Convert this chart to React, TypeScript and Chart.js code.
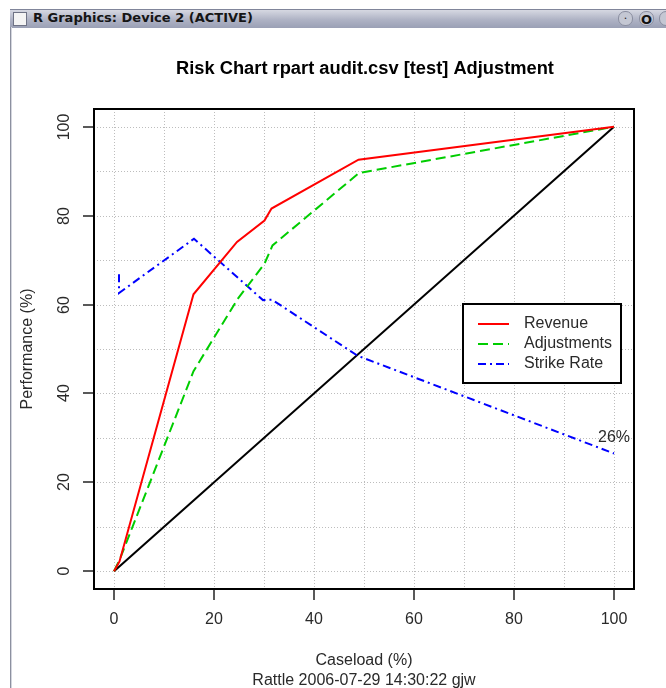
import React, { useEffect, useRef } from "react";
import { Chart, registerables } from "chart.js";

Chart.register(...registerables);

// ---- data ----
const revenueX = [0, 1.1, 15.9, 24.6, 30.1, 31.5, 48.9, 100];
const revenueY = [0, 2.2, 62.3, 74.1, 78.9, 81.6, 92.6, 100];

const adjustmentsX = [0, 1.1, 15.9, 24.7, 30.1, 31.7, 49.0, 100];
const adjustmentsY = [0, 2.5, 45.0, 61.2, 69.2, 73.3, 89.6, 100];

const strikeX = [1.0, 1.0, 16.0, 29.8, 31.6, 48.7, 100];
const strikeY = [66.8, 62.6, 74.8, 61.0, 61.1, 48.5, 26.5];

const diagonalX = [0, 100];
const diagonalY = [0, 100];

const xTickValues = [0, 20, 40, 60, 80, 100];
const yTickValues = [0, 20, 40, 60, 80, 100];
const gridValues = [0, 10, 20, 30, 40, 50, 60, 70, 80, 90, 100];

const chartTitle = "Risk Chart rpart audit.csv [test] Adjustment";
const xAxisTitle = "Caseload (%)";
const subTitle = "Rattle 2006-07-29 14:30:22 gjw";
const yAxisTitle = "Performance (%)";
const legendLabels = ["Revenue", "Adjustments", "Strike Rate"];
const endLabel = "26%";
const windowTitle = "R Graphics: Device 2 (ACTIVE)";

const FONT = "'Liberation Sans', Arial, Helvetica, sans-serif";
const RED = "#ff0000";
const GREEN = "#00cd00";
const BLUE = "#0000ff";
const DASH_ADJ = [10, 5];
const DASH_STRIKE = [8, 4, 2, 4];

const pts = (xs: number[], ys: number[]) => xs.map((x, i) => ({ x, y: ys[i] }));

const decorPlugin = {
  id: "rdecor",
  beforeDatasetsDraw(chart: any) {
    const { ctx, chartArea, scales } = chart;
    const xs = scales.x;
    const ys = scales.y;
    ctx.save();
    ctx.strokeStyle = "#bdbdbd";
    ctx.lineWidth = 1;
    ctx.setLineDash([1, 2]);
    gridValues.forEach((v) => {
      const px = Math.round(xs.getPixelForValue(v)) + 0.5;
      ctx.beginPath();
      ctx.moveTo(px, chartArea.top);
      ctx.lineTo(px, chartArea.bottom);
      ctx.stroke();
      const py = Math.round(ys.getPixelForValue(v)) + 0.5;
      ctx.beginPath();
      ctx.moveTo(chartArea.left, py);
      ctx.lineTo(chartArea.right, py);
      ctx.stroke();
    });
    ctx.restore();
  },
  afterDatasetsDraw(chart: any) {
    const { ctx, chartArea, scales } = chart;
    const xs = scales.x;
    const ys = scales.y;
    const { left, right, top, bottom } = chartArea;
    ctx.save();
    ctx.setLineDash([]);
    // box
    ctx.strokeStyle = "#000";
    ctx.lineWidth = 2;
    ctx.strokeRect(left, top, right - left, bottom - top);

    // ticks
    ctx.lineWidth = 1.5;
    ctx.strokeStyle = "#222";
    ctx.fillStyle = "#2a2a2a";
    ctx.font = `16px ${FONT}`;
    ctx.textAlign = "center";
    ctx.textBaseline = "middle";
    xTickValues.forEach((v) => {
      const px = Math.round(xs.getPixelForValue(v));
      ctx.beginPath();
      ctx.moveTo(px, bottom + 1);
      ctx.lineTo(px, bottom + 11);
      ctx.stroke();
      ctx.fillText(String(v), px, bottom + 31);
    });
    yTickValues.forEach((v) => {
      const py = Math.round(ys.getPixelForValue(v));
      ctx.beginPath();
      ctx.moveTo(left - 1, py);
      ctx.lineTo(left - 11, py);
      ctx.stroke();
      ctx.save();
      ctx.translate(left - 29, py);
      ctx.rotate(-Math.PI / 2);
      ctx.fillText(String(v), 0, 0);
      ctx.restore();
    });

    // axis titles
    const cx = (left + right) / 2;
    ctx.fillText(xAxisTitle, cx, bottom + 72);
    ctx.fillText(subTitle, cx, bottom + 92);
    ctx.save();
    ctx.translate(left - 66, (top + bottom) / 2);
    ctx.rotate(-Math.PI / 2);
    ctx.fillText(yAxisTitle, 0, 0);
    ctx.restore();

    // main title
    ctx.fillStyle = "#000";
    ctx.font = `bold 18.3px ${FONT}`;
    ctx.fillText(chartTitle, cx + 1, top - 40);

    // end label
    ctx.fillStyle = "#2a2a2a";
    ctx.font = `16px ${FONT}`;
    const ex = xs.getPixelForValue(strikeX[strikeX.length - 1]);
    const ey = ys.getPixelForValue(strikeY[strikeY.length - 1]);
    ctx.fillText(endLabel, ex, ey - 16);

    // legend
    const lx = 463, ly = 304, lw = 158, lh = 79;
    ctx.fillStyle = "#fff";
    ctx.fillRect(lx, ly, lw, lh);
    ctx.strokeStyle = "#000";
    ctx.lineWidth = 2;
    ctx.strokeRect(lx, ly, lw, lh);
    const colors = [RED, GREEN, BLUE];
    const dashes = [[], DASH_ADJ, DASH_STRIKE];
    legendLabels.forEach((lab, i) => {
      const yy = ly + 20 + i * 20;
      ctx.strokeStyle = colors[i];
      ctx.lineWidth = 2;
      ctx.setLineDash(dashes[i]);
      ctx.beginPath();
      ctx.moveTo(lx + 15, yy);
      ctx.lineTo(lx + 46, yy);
      ctx.stroke();
      ctx.setLineDash([]);
      ctx.fillStyle = "#2a2a2a";
      ctx.textAlign = "left";
      ctx.fillText(lab, lx + 61, yy);
    });
    ctx.restore();
  },
};

function ChartCanvas() {
  const ref = useRef<HTMLCanvasElement | null>(null);
  useEffect(() => {
    if (!ref.current) return;
    const common = { showLine: true, pointRadius: 0, borderWidth: 2, fill: false, tension: 0 };
    const chart = new Chart(ref.current, {
      type: "scatter",
      data: {
        datasets: [
          { ...common, label: "Diagonal", data: pts(diagonalX, diagonalY), borderColor: "#000", order: 3 },
          { ...common, label: legendLabels[2], data: pts(strikeX, strikeY), borderColor: BLUE, borderDash: DASH_STRIKE, order: 2 },
          { ...common, label: legendLabels[1], data: pts(adjustmentsX, adjustmentsY), borderColor: GREEN, borderDash: DASH_ADJ, order: 1 },
          { ...common, label: legendLabels[0], data: pts(revenueX, revenueY), borderColor: RED, order: 0 },
        ],
      },
      options: {
        responsive: false,
        animation: false,
        devicePixelRatio: 1,
        layout: { padding: { left: 94, right: 32, top: 109, bottom: 99 } },
        scales: {
          x: { type: "linear", min: -4, max: 104, display: false },
          y: { type: "linear", min: -4, max: 104, display: false },
        },
        plugins: { legend: { display: false }, tooltip: { enabled: false }, title: { display: false } },
      },
      plugins: [decorPlugin],
    } as any);
    return () => chart.destroy();
  }, []);
  return (
    <canvas ref={ref} width={666} height={688} style={{ position: "absolute", left: 0, top: 0, width: 666, height: 688 }} />
  );
}

export default function App() {
  return (
    <div style={{ position: "absolute", left: 0, top: 0, width: 666, height: 688, background: "#fff", overflow: "hidden" }}>
      <ChartCanvas />
      {/* window chrome */}
      <div style={{ position: "absolute", left: 10, top: 9, width: 656, height: 18, background: "linear-gradient(#d6d8e2, #aeb2c4 55%, #9aa0b5)", borderTop: "1px solid #80859a" }} />
      <div style={{ position: "absolute", left: 13, top: 12, width: 12, height: 12, background: "#f4f4f4", border: "1px solid #6f7385" }} />
      <div style={{ position: "absolute", left: 33, top: 10, height: 18, lineHeight: "18px", font: "bold 13px 'DejaVu Sans', sans-serif", color: "#151515", whiteSpace: "nowrap" }}>{windowTitle}</div>
      <div style={{ position: "absolute", left: 618, top: 11, width: 13, height: 13, borderRadius: 7, background: "#c4c7d3", border: "1px solid #8a8ea0", textAlign: "center", lineHeight: "12px", fontSize: 12, color: "#222" }}>·</div>
      <div style={{ position: "absolute", left: 639, top: 11, width: 13, height: 13, borderRadius: 7, background: "#c4c7d3", border: "1px solid #8a8ea0", textAlign: "center", lineHeight: "13px", font: "bold 13px 'DejaVu Sans', sans-serif", color: "#111" }}>O</div>
      <div style={{ position: "absolute", left: 659, top: 11, width: 13, height: 13, borderRadius: 7, background: "#c4c7d3", border: "1px solid #8a8ea0" }} />
      <div style={{ position: "absolute", left: 10, top: 27, width: 1, height: 661, background: "#8c90a0" }} />
      <div style={{ position: "absolute", left: 11, top: 27, width: 1, height: 661, background: "#d4d6de" }} />
    </div>
  );
}
